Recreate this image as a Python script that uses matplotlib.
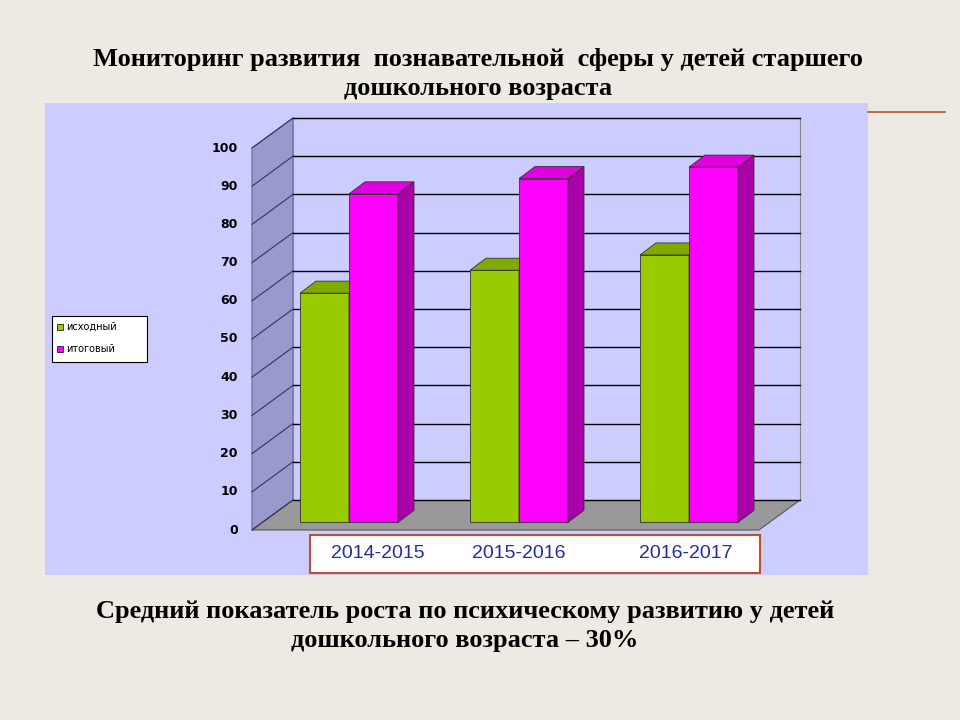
import matplotlib
matplotlib.use("Agg")
import matplotlib.pyplot as plt
from matplotlib.patches import Polygon, Rectangle

years = ["2014-2015", "2015-2016", "2016-2017"]
ishod = [60, 66, 70]
itog = [86, 90, 93]
series_names = ["исходный", "итоговый"]
yticks = list(range(0, 101, 10))

fig = plt.figure(figsize=(9.6, 7.2), dpi=100)
fig.patch.set_facecolor("#EDE9E3")
ax = fig.add_axes([45/960, 145/720, 823/960, 472/720])
ax.set_xlim(45, 868)
K = 3.82  # px per unit
ax.set_ylim(-(575-530)/K, (530-103)/K)
ax.set_facecolor("#CCCCFF")
for s in ax.spines.values():
    s.set_visible(False)
ax.set_xticks([]); ax.set_yticks([])

BX, BY = 41, 30/K
x_left, x_right = 252, 759
ax.add_patch(Polygon([(x_left, 0), (x_left+BX, BY), (x_left+BX, 100+BY), (x_left, 100)],
                     closed=True, fc="#9999CC", ec="#666699", lw=0.8, zorder=1))
ax.add_patch(Polygon([(x_left, 0), (x_right, 0), (x_right+BX, BY), (x_left+BX, BY)],
                     closed=True, fc="#999999", ec="#555555", lw=0.8, zorder=1))
ax.add_patch(Rectangle((x_left+BX, BY), x_right-x_left, 100, fc="#CCCCFF", ec="#888888", lw=0.8, zorder=1))
for v in yticks:
    ax.plot([x_left+BX, x_right+BX], [v+BY, v+BY], color="black", lw=1, zorder=2)
    ax.plot([x_left, x_left+BX], [v, v+BY], color="#333366", lw=0.8, zorder=2)
    ax.text(x_left-14, v, str(v), ha="right", va="center", fontsize=9, fontweight="bold", zorder=3)

w = 49
dx, dy = 16, 12/K
off_x, off_y = 0, 2.0
cols = [("#99CC00", "#669900", "#80AA00"), ("#FF00FF", "#AA00AA", "#E000E0")]
for i in range(len(years)):
    c = 349 + 170*i
    for j, vals in enumerate([ishod, itog]):
        x0 = c - w + j*w + off_x
        v = vals[i]
        f, sd, tp = cols[j]
        ax.bar(x0, v, width=w, bottom=off_y, align="edge", color=f, ec="#333333", lw=0.6, zorder=4+j)
        ax.add_patch(Polygon([(x0+w, off_y), (x0+w+dx, off_y+dy), (x0+w+dx, off_y+v+dy), (x0+w, off_y+v)],
                             closed=True, fc=sd, ec="#333333", lw=0.6, zorder=4+j))
        ax.add_patch(Polygon([(x0, off_y+v), (x0+w, off_y+v), (x0+w+dx, off_y+v+dy), (x0+dx, off_y+v+dy)],
                             closed=True, fc=tp, ec="#333333", lw=0.6, zorder=4+j))

ax.add_patch(Rectangle((52, (530-362)/K), 95, 46/K, fc="white", ec="black", lw=0.8, zorder=6))
for j, name in enumerate(series_names):
    yy = (530-(327+22*j))/K
    ax.plot([60], [yy], marker="s", ms=5, color=cols[j][0], mec="black", mew=0.5, zorder=7)
    ax.text(66, yy, name, fontsize=7, va="center", zorder=7)

fig.patches.append(Rectangle((310/960, 147/720), 450/960, 38/720, transform=fig.transFigure,
                             fc="white", ec="#C0502A", lw=1.5, zorder=5))
for xp, yr in zip([378, 519, 686], years):
    fig.text(xp/960, 166/720, yr, ha="center", va="center", fontsize=14, color="#1F2F9F",
             family="Liberation Sans", zorder=6)

fig.add_artist(plt.Line2D([868/960, 945/960], [608/720, 608/720], color="#C0502A", lw=1.2))
fig.text(478/960, 646/720, "Мониторинг развития  познавательной  сферы у детей старшего\nдошкольного возраста",
         ha="center", va="center", fontsize=19, fontweight="bold", family="Liberation Serif", linespacing=1.35)
fig.text(465/960, 94/720, "Средний показатель роста по психическому развитию у детей\nдошкольного возраста – 30%",
         ha="center", va="center", fontsize=19, fontweight="bold", family="Liberation Serif", linespacing=1.3)
fig.savefig("out.png", dpi=100, facecolor=fig.get_facecolor())
